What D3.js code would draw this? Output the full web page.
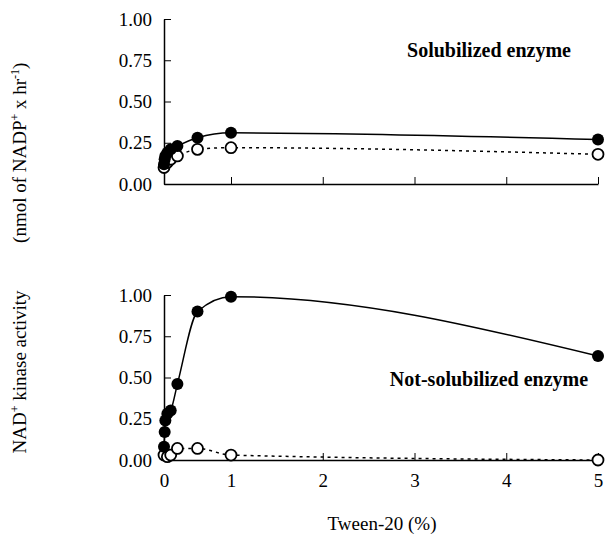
<!DOCTYPE html>
<html>
<head>
<meta charset="utf-8">
<script src="https://d3js.org/d3.v7.min.js"></script>
<style>
  body { margin: 0; background: #fff; }
  text { font-family: "Liberation Serif", serif; }
</style>
</head>
<body>
<div id="wrapper"></div>
<script>
// Tween-20 concentrations (%)
const tween = [0, 0.01, 0.02, 0.05, 0.1, 0.2, 0.5, 1, 5];
const tweenOpenTop = [0, 0.05, 0.1, 0.2, 0.5, 1, 5];
const tweenOpenBot = [0, 0.05, 0.1, 0.2, 0.5, 1, 5];

// Solubilized enzyme
const solFilled = [0.12, 0.15, 0.17, 0.19, 0.21, 0.23, 0.28, 0.31, 0.27];
const solOpen = [0.10, 0.13, 0.15, 0.17, 0.21, 0.22, 0.18];
// Not-solubilized enzyme
const notFilled = [0.08, 0.17, 0.24, 0.28, 0.30, 0.46, 0.90, 0.99, 0.63];
const notOpen = [0.03, 0.02, 0.03, 0.07, 0.07, 0.03, 0.00];

const xTicks = [0, 1, 2, 3, 4, 5];
const yTicks = [0, 0.25, 0.5, 0.75, 1];

const width = 609, height = 539;
const svg = d3.select("#wrapper").append("svg").attr("width", width).attr("height", height);

// the printed axis is stretched between 0 and 1
const x = d3.scaleLinear().domain([0, 1, 5]).range([164, 231, 598]);

const panels = [
  { top: 19, bottom: 184, filled: solFilled, open: solOpen, openX: tweenOpenTop, title: "Solubilized enzyme", ty: 57 },
  { top: 295, bottom: 460, filled: notFilled, open: notOpen, openX: tweenOpenBot, title: "Not-solubilized enzyme", ty: 386 }
];

panels.forEach((p, i) => {
  const y = d3.scaleLinear().domain([0, 1]).range([p.bottom, p.top]);
  const g = svg.append("g");

  const yAxis = g.append("g").attr("transform", "translate(164,0)")
    .call(d3.axisLeft(y).tickValues(yTicks).tickFormat(d3.format(".2f")).tickSizeInner(-7).tickSizeOuter(0).tickPadding(12));
  yAxis.select(".domain").attr("stroke-width", 1.5);
  yAxis.selectAll("text").attr("font-size", 19).attr("font-family", "Liberation Serif");

  const xAxis = g.append("g").attr("transform", `translate(0,${p.bottom})`)
    .call(d3.axisBottom(x).tickValues(xTicks).tickSizeInner(-7).tickSizeOuter(0).tickPadding(14).tickFormat(i === 1 ? d3.format("d") : ""));
  xAxis.select(".domain").attr("stroke-width", 1.5);
  xAxis.selectAll("text").attr("font-size", 19).attr("font-family", "Liberation Serif");

  const line = d3.line().x(d => x(d[0])).y(d => y(d[1])).curve(d3.curveMonotoneX);
  const fPts = tween.map((t, k) => [t, p.filled[k]]);
  const oPts = p.openX.map((t, k) => [t, p.open[k]]);

  g.append("path").attr("d", line(fPts)).attr("fill", "none").attr("stroke", "#000").attr("stroke-width", 1.5);
  g.append("path").attr("d", line(oPts)).attr("fill", "none").attr("stroke", "#000").attr("stroke-width", 1.5).attr("stroke-dasharray", "3,4");

  g.selectAll(".o").data(oPts).join("circle")
    .attr("cx", d => x(d[0])).attr("cy", d => y(d[1])).attr("r", 5.5)
    .attr("fill", "#fff").attr("stroke", "#000").attr("stroke-width", 1.8);
  g.selectAll(".f").data(fPts).join("circle")
    .attr("cx", d => x(d[0])).attr("cy", d => y(d[1])).attr("r", 6)
    .attr("fill", "#000");

  g.append("text").attr("x", 489).attr("y", p.ty).attr("text-anchor", "middle")
    .attr("font-size", 20).attr("font-weight", "bold").text(p.title);
});

svg.append("text").attr("x", 382).attr("y", 530).attr("text-anchor", "middle")
  .attr("font-size", 19).text("Tween-20 (%)");

const yl = svg.append("text").attr("transform", "translate(26,258) rotate(-90)")
  .attr("text-anchor", "middle").attr("font-size", 19).attr("xml:space", "preserve");
yl.append("tspan").text("NAD");
yl.append("tspan").attr("baseline-shift", "super").attr("font-size", 12).text("+");
yl.append("tspan").text(" kinase activity          (nmol of NADP");
yl.append("tspan").attr("baseline-shift", "super").attr("font-size", 12).text("+");
yl.append("tspan").text(" x hr");
yl.append("tspan").attr("baseline-shift", "super").attr("font-size", 12).text("-1");
yl.append("tspan").text(")");
</script>
</body>
</html>
